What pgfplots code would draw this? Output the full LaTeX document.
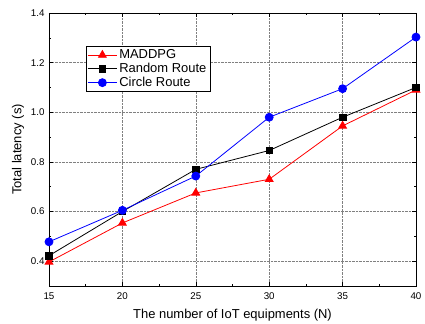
\documentclass[border=0pt]{standalone}
\usepackage{pgfplots}
\pgfplotsset{compat=1.18}
\usepackage{fontspec}
\setmainfont{Liberation Sans}
\begin{document}
\begin{tikzpicture}[x=1bp,y=1bp]
\useasboundingbox (-49,-38) rectangle (376,286);
\begin{axis}[
  at={(0,0)}, anchor=south west,
  scale only axis, width=367bp, height=273bp,
  xmin=15, xmax=40, ymin=0.3, ymax=1.4,
  xtick={15,20,...,40}, ytick={0.4,0.6,...,1.4},
  minor x tick num=1, minor y tick num=1,
  tick align=inside,
  major tick length=4bp, minor tick length=2.5bp,
  grid=major,
  major grid style={gray, densely dotted, line width=0.6pt},
  axis line style={line width=0.9pt},
  every tick/.style={black, line width=0.6pt},
  /pgf/number format/assume math mode=true,
  yticklabel style={/pgf/number format/fixed, /pgf/number format/fixed zerofill, /pgf/number format/precision=1, font=\fontsize{9.8}{11}\selectfont, xshift=-1bp},
  xticklabel style={font=\fontsize{9.8}{11}\selectfont, yshift=-3bp},
  xlabel={The number of IoT equipments (N)},
  ylabel={Total latency (s)},
  label style={font=\fontsize{13}{15}\selectfont},
  xlabel style={yshift=-3bp},
  legend style={at={(0.1,0.879)}, anchor=north west, line width=0.6pt, font=\fontsize{13}{14}\selectfont, row sep=-1bp, inner sep=1.5bp},
  legend cell align=left,
  legend image code/.code={\draw[mark repeat=2, mark phase=2, #1] plot coordinates {(0bp,0bp) (14.5bp,0bp) (29bp,0bp)};},
]
\addplot[color=red, line width=0.8pt, mark=triangle*, mark size=4.5bp] coordinates {(15,0.397) (20,0.554) (25,0.675) (30,0.730) (35,0.945) (40,1.090)};
\addlegendentry{MADDPG}
\addplot[color=black, line width=0.8pt, mark=square*, mark size=3.3bp] coordinates {(15,0.422) (20,0.600) (25,0.770) (30,0.846) (35,0.980) (40,1.100)};
\addlegendentry{Random Route}
\addplot[color=blue, line width=0.8pt, mark=*, mark size=4bp] coordinates {(15,0.478) (20,0.605) (25,0.743) (30,0.980) (35,1.095) (40,1.303)};
\addlegendentry{Circle Route}
\end{axis}
\end{tikzpicture}
\end{document}
